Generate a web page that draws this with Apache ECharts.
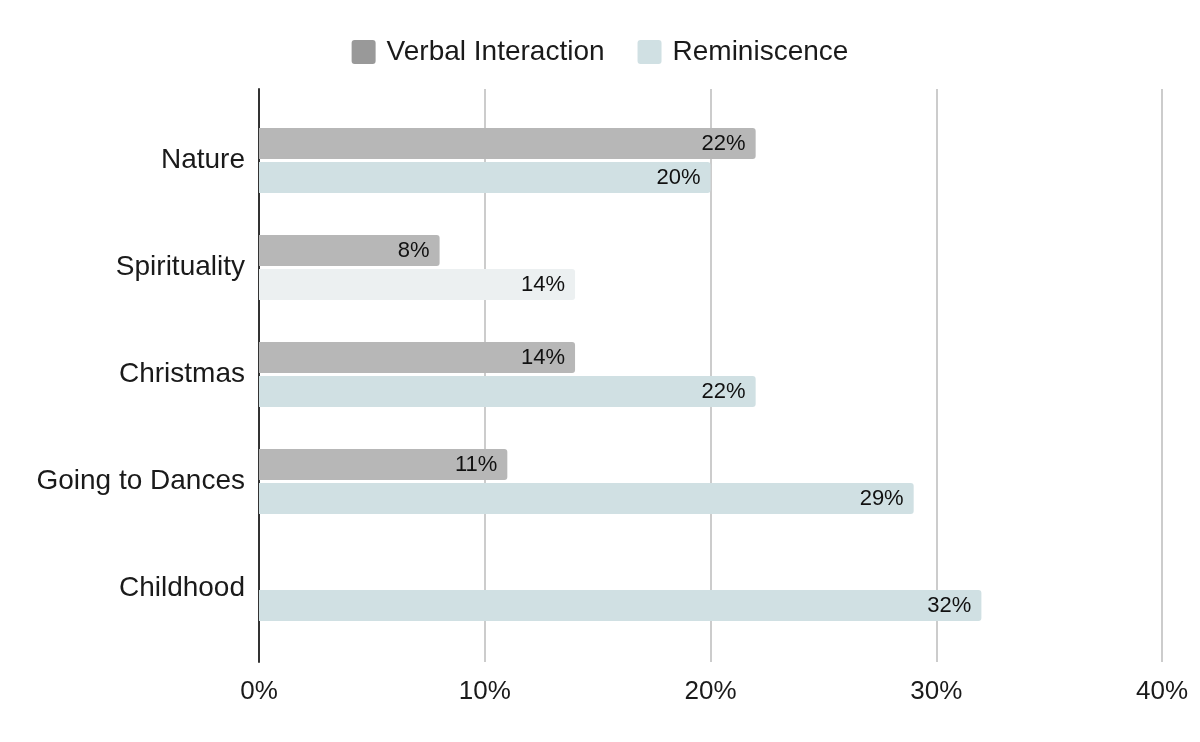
<!DOCTYPE html>
<html>
<head>
<meta charset="utf-8">
<script src="https://cdn.jsdelivr.net/npm/echarts@6/dist/echarts.min.js"></script>
<style>
html,body{margin:0;padding:0;background:#fff;}
#chart{width:1200px;height:742px;}
</style>
</head>
<body>
<div id="chart"></div>
<script>
const categories = ['Nature', 'Spirituality', 'Christmas', 'Going to Dances', 'Childhood'];
const verbalInteraction = [22, 8, 14, 11, null];
const reminiscence = [20, 14, 22, 29, 32];
const xTicks = [0, 10, 20, 30, 40];

const seriesNames = ['Verbal Interaction', 'Reminiscence'];
const verbalColor = '#b7b7b7';
const verbalLegendColor = '#999999';
const remColor = '#d0e0e3';
const remHighlightIndex = 1;
const remHighlightColor = '#ecf0f1';

const chart = echarts.init(document.getElementById('chart'));
const axisFont = 'Liberation Sans, Arial, sans-serif';
const textColor = '#1a1a1a';
const labelCfg = {
  show: true,
  position: 'insideRight',
  distance: 10,
  formatter: '{c}%',
  color: '#111',
  fontFamily: axisFont,
  fontSize: 22
};

chart.setOption({
  animation: false,
  backgroundColor: '#fff',
  legend: {
    top: 33,
    left: 'center',
    icon: 'path://M3,0 L21,0 Q24,0 24,3 L24,21 Q24,24 21,24 L3,24 Q0,24 0,21 L0,3 Q0,0 3,0 Z',
    itemWidth: 24,
    itemHeight: 24,
    itemGap: 33,
    textStyle: { fontFamily: axisFont, fontSize: 28, color: textColor, padding: [0, 0, 0, 6] },
    data: [
      { name: seriesNames[0], itemStyle: { color: verbalLegendColor } },
      { name: seriesNames[1], itemStyle: { color: remColor } }
    ]
  },
  grid: [
    { left: 259, right: 38, top: 89, bottom: 80 },
    { left: 259, right: 38, top: 107, bottom: 100 }
  ],
  xAxis: [
    {
      gridIndex: 0, type: 'value', min: xTicks[0], max: xTicks[xTicks.length - 1], interval: 10,
      axisLine: { show: false }, axisTick: { show: false },
      axisLabel: { formatter: '{value}%', fontFamily: axisFont, fontSize: 26, color: textColor, margin: 17 },
      splitLine: { show: true, lineStyle: { color: '#cccccc', width: 2 } }
    },
    {
      gridIndex: 1, type: 'value', min: xTicks[0], max: xTicks[xTicks.length - 1], interval: 10,
      show: false, splitLine: { show: false }
    }
  ],
  yAxis: [
    {
      gridIndex: 0, type: 'category', data: categories, inverse: true,
      axisLine: { show: true, lineStyle: { color: '#333', width: 2 } },
      axisTick: { show: false }, axisLabel: { show: false }, splitLine: { show: false }
    },
    {
      gridIndex: 1, type: 'category', data: categories, inverse: true,
      axisLine: { show: false }, axisTick: { show: false },
      axisLabel: { fontFamily: axisFont, fontSize: 28, color: textColor, margin: 14 }
    }
  ],
  series: [
    {
      name: seriesNames[0], type: 'bar', xAxisIndex: 1, yAxisIndex: 1,
      data: verbalInteraction, barWidth: 31, barGap: '10%',
      itemStyle: { color: verbalColor, borderRadius: [0, 3, 3, 0] },
      label: labelCfg
    },
    {
      name: seriesNames[1], type: 'bar', xAxisIndex: 1, yAxisIndex: 1,
      data: reminiscence.map((v, i) => i === remHighlightIndex ? { value: v, itemStyle: { color: remHighlightColor } } : v),
      barWidth: 31, barGap: '10%',
      itemStyle: { color: remColor, borderRadius: [0, 3, 3, 0] },
      label: labelCfg
    }
  ]
});
</script>
</body>
</html>
